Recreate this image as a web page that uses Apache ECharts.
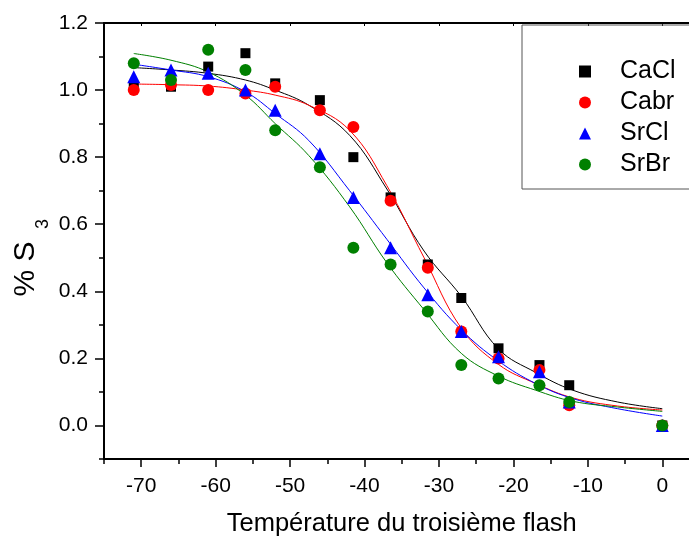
<!DOCTYPE html>
<html><head><meta charset="utf-8">
<script src="https://cdn.jsdelivr.net/npm/echarts@6/dist/echarts.min.js"></script>
<style>html,body{margin:0;padding:0;background:#fff}#c{width:689px;height:536px}</style>
</head><body><div id="c"></div>
<script>
// Measured points
const xPts = [-71, -66, -61, -56, -52, -46, -41.5, -36.5, -31.5, -27, -22, -16.5, -12.5, 0];
const CaCl = [1.01, 1.01, 1.07, 1.11, 1.02, 0.97, 0.80, 0.68, 0.48, 0.38, 0.23, 0.18, 0.12, 0.00];
const Cabr = [1.00, 1.015, 1.00, 0.99, 1.01, 0.94, 0.89, 0.67, 0.47, 0.28, 0.20, 0.165, 0.06, 0.00];
const SrCl = [1.04, 1.06, 1.05, 1.00, 0.94, 0.81, 0.68, 0.53, 0.39, 0.28, 0.205, 0.16, 0.07, 0.00];
const SrBr = [1.08, 1.03, 1.12, 1.06, 0.88, 0.77, 0.53, 0.48, 0.34, 0.18, 0.14, 0.12, 0.07, 0.00];
// Fitted curves
const fitX = [-71, -66, -61, -56, -52, -47.5, -42, -37, -32, -27, -22, -17, -12, -6, 0];
const fitCaCl = [1.067, 1.06, 1.05, 1.03, 1.0, 0.955, 0.865, 0.705, 0.52, 0.385, 0.228, 0.158, 0.105, 0.07, 0.05];
const fitCabr = [1.018, 1.016, 1.012, 1.0, 0.985, 0.955, 0.88, 0.715, 0.50, 0.29, 0.182, 0.125, 0.082, 0.058, 0.046];
const fitSrCl = [1.077, 1.06, 1.04, 0.995, 0.93, 0.85, 0.70, 0.555, 0.41, 0.285, 0.192, 0.125, 0.08, 0.05, 0.028];
const fitSrBr = [1.109, 1.089, 1.054, 0.985, 0.90, 0.805, 0.652, 0.485, 0.345, 0.215, 0.147, 0.105, 0.072, 0.055, 0.042];
// Ticks
const xMajor = [-70, -60, -50, -40, -30, -20, -10, 0];
const xMinor = [-75, -65, -55, -45, -35, -25, -15, -5, 5];
const yMajor = [0, 0.2, 0.4, 0.6, 0.8, 1.0, 1.2];
const yMinor = [-0.1, 0.1, 0.3, 0.5, 0.7, 0.9, 1.1];

const F = '"Liberation Sans", Arial, sans-serif';
const pairs = (xs, ys) => xs.map((x, i) => [x, ys[i]]);
const names = ['CaCl', 'Cabr', 'SrCl', 'SrBr'];
const colors = ['#000000', '#ff0000', '#0000ff', '#008000'];
const symbols = ['rect', 'circle', 'triangle', 'circle'];
const sizes = [10, 12, 13, 12];
const pts = [CaCl, Cabr, SrCl, SrBr];
const fits = [fitCaCl, fitCabr, fitSrCl, fitSrBr];

const chart = echarts.init(document.getElementById('c'));
const series = [];
fits.forEach((f, i) => series.push({
  type: 'line', name: names[i] + ' fit', data: pairs(fitX, f), smooth: 0.4,
  showSymbol: false, symbol: 'none', lineStyle: {color: colors[i], width: 1}, z: 2, silent: true
}));
pts.forEach((p, i) => series.push({
  type: 'scatter', name: names[i], data: pairs(xPts, p), symbol: symbols[i], symbolSize: sizes[i],
  itemStyle: {color: colors[i], opacity: 1}, z: 3 + i
}));

const lineCol = {color: '#000', width: 2};
chart.setOption({
  animation: false,
  backgroundColor: '#fff',
  grid: {left: 104, top: 23, right: -10.5, bottom: 77, outerBoundsMode: 'none', containLabel: false},
  xAxis: [
    {type: 'value', min: -75, max: 5, position: 'bottom',
     axisLine: {onZero: false, lineStyle: lineCol},
     axisTick: {customValues: xMajor, length: 8, lineStyle: {color: '#000', width: 1.5}},
     axisLabel: {customValues: xMajor, fontSize: 21, color: '#000', fontFamily: F, margin: 17},
     splitLine: {show: false},
     name: 'Température du troisième flash', nameLocation: 'middle', nameGap: 52,
     nameTextStyle: {fontSize: 25.5, color: '#000', fontFamily: F}},
    {type: 'value', min: -75, max: 5, position: 'bottom',
     axisLine: {show: false, onZero: false},
     axisTick: {customValues: xMinor, length: 5, lineStyle: {color: '#000', width: 1.5}},
     axisLabel: {show: false}, splitLine: {show: false}},
    {type: 'value', min: -75, max: 5, position: 'top',
     axisLine: {onZero: false, lineStyle: lineCol},
     axisTick: {customValues: xMajor, inside: true, length: 3, lineStyle: {color: '#000', width: 1}},
     axisLabel: {show: false}, splitLine: {show: false}}
  ],
  yAxis: [
    {type: 'value', min: -0.1, max: 1.2, position: 'left',
     axisLine: {show: true, onZero: false, lineStyle: lineCol},
     axisTick: {show: true, customValues: yMajor, length: 9, lineStyle: {color: '#000', width: 1.5}},
     axisLabel: {customValues: yMajor, fontSize: 21, color: '#000', fontFamily: F, margin: 16,
                 formatter: v => v.toFixed(1)},
     splitLine: {show: false}},
    {type: 'value', min: -0.1, max: 1.2, position: 'left',
     axisLine: {show: false, onZero: false},
     axisTick: {show: true, customValues: yMinor, length: 5, lineStyle: {color: '#000', width: 1.5}},
     axisLabel: {show: false}, splitLine: {show: false}}
  ],
  legend: {
    orient: 'vertical', left: 574, top: 54, itemGap: 6, itemWidth: 12, itemHeight: 12,
    data: names,
    textStyle: {fontSize: 25, color: '#000', fontFamily: F, lineHeight: 25, padding: [0, 0, 0, 24]}
  },
  graphic: [
    {type: 'rect', shape: {x: 522, y: 25, width: 200, height: 164},
     style: {fill: 'none', stroke: '#555', lineWidth: 1}, z: 1},
    {type: 'text', x: 26, y: 269, rotation: Math.PI / 2,
     style: {text: '% S', font: '30px "Liberation Sans", Arial, sans-serif', fill: '#000',
             textAlign: 'center', textVerticalAlign: 'middle'}},
    {type: 'text', x: 43, y: 224, rotation: Math.PI / 2,
     style: {text: '3', font: '18px "Liberation Sans", Arial, sans-serif', fill: '#000',
             textAlign: 'center', textVerticalAlign: 'middle'}}
  ],
  series: series
});
</script></body></html>
